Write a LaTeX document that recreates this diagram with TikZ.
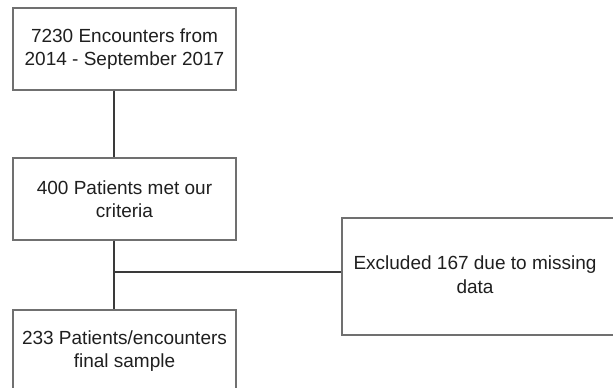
\documentclass[tikz,border=0pt]{standalone}
\usepackage{fontspec}
\setmainfont{Liberation Sans}
\definecolor{boxgray}{HTML}{707070}
\definecolor{linegray}{HTML}{3A3A3A}
\begin{document}
\begin{tikzpicture}[x=1pt,y=-1pt]
            \tikzset{
                flowtext/.style={align=center, inner sep=0pt, font=\fontsize{19}{23.5}\selectfont, text=black!88},
                flowbox/.style={flowtext, draw=boxgray, line width=1.1pt, minimum width=223pt, minimum height=82pt},
                link/.style={draw=linegray, line width=1.4pt},}
            \useasboundingbox (0,0) rectangle (613,388);
            \clip (0,0) rectangle (613,388);
            \node[flowbox] (encounters) at (124.5,49) {7230 Encounters from\\2014 - September 2017};
            \node[flowbox] (criteria) at (124.5,199) {400 Patients met our\\criteria};
            \node[flowbox] (sample) at (124.5,351) {233 Patients/encounters\\final sample};
            \node[flowbox, minimum width=320pt, minimum height=117pt,
                label={[flowtext, xshift=-27pt, yshift=2pt]center:Excluded 167 due to missing\\data}] (excluded) at (502,276.5) {};
            \coordinate (spine) at (114,0);
            \coordinate (split) at (114,272);
            \draw[link] (encounters.south -| spine) -- (criteria.north -| spine);
            \draw[link] (criteria.south -| spine) -- (sample.north -| spine);
            \draw[link] (split) -- (split -| excluded.west);
            % \draw[dotted] (0,0) grid[step=50] (613,388);
        \end{tikzpicture}
\end{document}
